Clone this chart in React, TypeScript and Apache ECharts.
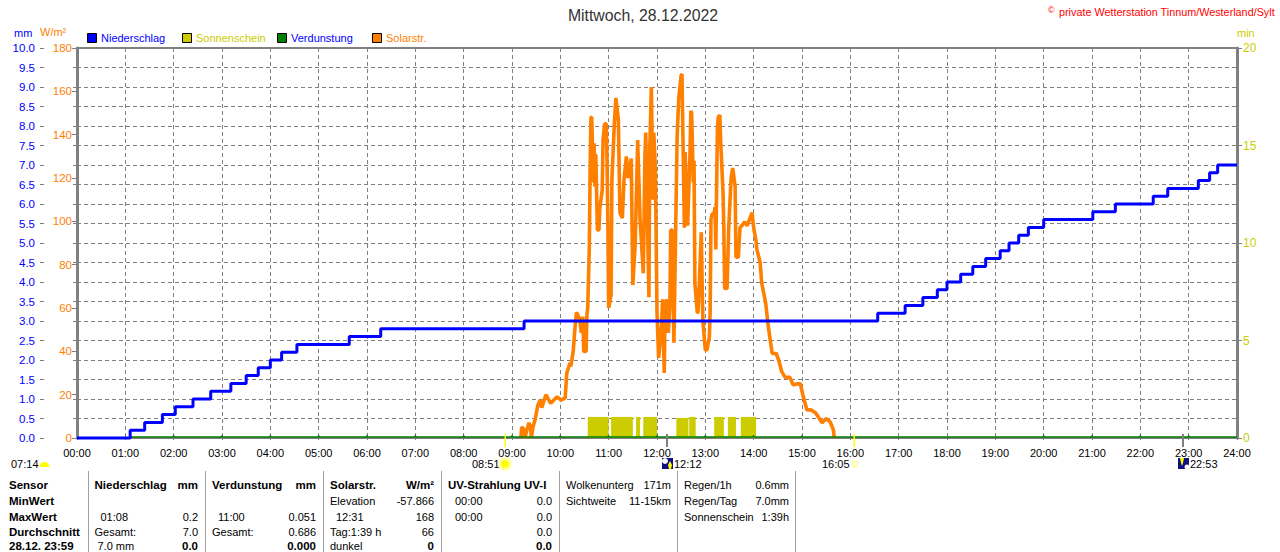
import React, { useEffect, useRef } from "react";
import * as echarts from "echarts";

const chartTitle = "Mittwoch, 28.12.2022";
const stationNote = "private Wetterstation Tinnum/Westerland/Sylt";

const legendNames = ["Niederschlag", "Sonnenschein", "Verdunstung", "Solarstr."];

const rainMinutes = [0, 66, 84, 106, 122, 144, 166, 191, 210, 225, 240, 254, 273, 338, 377, 555, 994, 1028, 1050, 1068, 1080, 1097, 1112, 1128, 1146, 1157, 1169, 1181, 1200, 1261, 1289, 1336, 1354, 1392, 1406, 1416, 1440];
const rainValues = [0, 0.2, 0.4, 0.6, 0.8, 1.0, 1.2, 1.4, 1.6, 1.8, 2.0, 2.2, 2.4, 2.6, 2.8, 3.0, 3.2, 3.4, 3.6, 3.8, 4.0, 4.2, 4.4, 4.6, 4.8, 5.0, 5.2, 5.4, 5.6, 5.8, 6.0, 6.2, 6.4, 6.6, 6.8, 7.0, 7.0];

const solarMinutes = [551, 552, 555, 556, 558, 561, 563, 564, 566, 569, 572, 575, 577, 582, 588, 596, 601, 606, 608, 612, 613, 616, 618, 620, 624, 626, 628, 629, 632, 633, 634, 636, 637, 638, 639, 641, 642, 643, 644, 646, 648, 649, 652, 653, 655, 657, 658, 659, 660, 663, 664, 667, 669, 672, 674, 677, 679, 682, 684, 688, 690, 693, 695, 696, 699, 700, 703, 705, 706, 710, 711, 713, 715, 716, 718, 720, 721, 722, 725, 727, 729, 730, 732, 734, 736, 737, 739, 741, 744, 745, 746, 747, 750, 751, 752, 754, 755, 756, 757, 758, 761, 762, 763, 765, 766, 767, 770, 771, 775, 776, 777, 780, 782, 785, 786, 787, 788, 791, 792, 793, 795, 796, 798, 799, 802, 803, 804, 807, 809, 812, 814, 817, 818, 821, 823, 829, 832, 838, 840, 843, 844, 848, 850, 853, 855, 858, 860, 863, 868, 871, 875, 879, 885, 889, 894, 898, 901, 906, 911, 917, 925, 930, 935, 939, 940];
const solarValues = [0, 5, 4, 0, 3, 7, 5, 0, 5, 9, 15, 17.5, 14, 20, 16, 19, 17.5, 18.5, 30, 34.6, 33, 40, 50, 58, 55, 48.5, 56, 40, 40, 57, 60, 88, 125, 148, 148, 118, 136, 116, 131, 96, 96, 106, 114.5, 137.5, 145, 145, 128, 99, 60, 66, 119, 145, 157, 147, 104, 101.5, 119, 130, 120, 129, 70.6, 90, 121, 137.5, 100.6, 94.6, 76, 130, 141, 65, 133, 162, 110, 141, 124, 58, 47.5, 37, 47.5, 64, 30, 58, 64, 48.5, 61, 96, 96, 44, 116, 139, 148, 157, 167.5, 168, 143.5, 97, 132, 118, 100, 98, 132, 151, 150, 118, 128, 71.5, 58, 58, 95, 71.5, 54, 40.6, 40.6, 46.6, 59, 100.6, 103, 104, 106.6, 87, 143, 148, 149, 137.5, 113, 96, 69, 69, 97, 120, 124.6, 116, 83.5, 83.5, 97, 99.7, 98, 104, 97, 91, 87, 81, 71.5, 66, 62, 52, 46.6, 39, 39, 36, 30.5, 28, 28, 24.5, 25, 25, 20, 13, 13, 11.5, 7, 9, 7.4, 3.7, 0];

const sunshineStart = [634, 663, 694, 703, 744, 760, 791, 808, 824];
const sunshineEnd = [660, 690, 699, 720, 759, 768, 803, 818, 843];
const sunshineHeight = [1.08, 1.08, 1.08, 1.08, 1.03, 1.08, 1.08, 1.08, 1.08];

const evapPeakHours = [2, 3, 4, 5, 6, 7, 8, 9, 10, 11, 12, 13, 14, 15, 20, 21, 22, 23];
const evapBase = 0.025;
const evapPeak = 0.06;

const sunEventMinutes = [531, 732, 965, 1373];
const sunEventLabels = ["08:51", "12:12", "16:05", "22:53"];
const sunriseLabel = "07:14";

const sensorColumn = ["Sensor", "MinWert", "MaxWert", "Durchschnitt", "28.12. 23:59"];
const rainColumnLeft = ["Niederschlag", "", "01:08", "Gesamt:", "7.0 mm"];
const rainColumnRight = ["mm", "", "0.2", "7.0", "0.0"];
const evapColumnLeft = ["Verdunstung", "", "11:00", "Gesamt:", ""];
const evapColumnRight = ["mm", "", "0.051", "0.686", "0.000"];
const solarColumnLeft = ["Solarstr.", "Elevation", "12:31", "Tag:1:39 h", "dunkel"];
const solarColumnRight = ["W/m²", "-57.866", "168", "66", "0"];
const uvColumnLeft = ["UV-Strahlung UV-I", "00:00", "00:00", "", ""];
const uvColumnRight = ["", "0.0", "0.0", "0.0", "0.0"];
const cloudColumnLeft = ["Wolkenunterg", "Sichtweite"];
const cloudColumnRight = ["171m", "11-15km"];
const summaryColumnLeft = ["Regen/1h", "Regen/Tag", "Sonnenschein"];
const summaryColumnRight = ["0.6mm", "7.0mm", "1:39h"];

const BLUE = "#0000ff";
const ORANGE = "#ff8000";
const OLIVE = "#cccc00";
const GREEN = "#007f00";
const GRAY = "#808080";
const FONT = '"Liberation Sans", Arial, sans-serif';
const NORMAL = `11px ${FONT}`;
const BOLD = `bold 11.5px ${FONT}`;
const ROW_Y = [485, 501, 517, 532, 546];

const zip = (a: number[], b: number[]) => a.map((v, i) => [v, b[i]]);

function txt(text: string, x: number, y: number, font: string, fill: string, align = "left") {
  return {
    type: "text",
    x,
    y,
    silent: true,
    style: { text, font, fill, align, verticalAlign: "middle", textAlign: align, textVerticalAlign: "middle" },
  };
}

function tableColumn(left: string[], right: string[], lx: number, rx: number, indents: number[], boldLeftRows: number[], boldRightRows: number[]) {
  const out: any[] = [];
  left.forEach((s, i) => {
    if (s) out.push(txt(s, lx + (indents[i] || 0), ROW_Y[i], boldLeftRows.includes(i) ? BOLD : NORMAL, "#000", "left"));
  });
  right.forEach((s, i) => {
    if (s) out.push(txt(s, rx, ROW_Y[i], boldRightRows.includes(i) ? BOLD : NORMAL, "#000", "right"));
  });
  return out;
}

function buildGraphics() {
  const els: any[] = [];
  els.push(txt("mm", 14, 33, NORMAL, BLUE));
  els.push(txt("W/m²", 40, 32, NORMAL, ORANGE));
  els.push(txt("min", 1237, 33, NORMAL, OLIVE));
  els.push(txt("©", 1048, 10, `9px ${FONT}`, "#ff0000"));
  els.push(txt(stationNote, 1059, 12, `10.8px ${FONT}`, "#ff0000"));
  const legendColors = [BLUE, OLIVE, GREEN, ORANGE];
  const legendText = [BLUE, OLIVE, BLUE, ORANGE];
  legendNames.forEach((n, i) => {
    const x = 87 + i * 95;
    els.push({ type: "rect", shape: { x: x + 0.5, y: 33.5, width: 9, height: 9 }, style: { fill: legendColors[i], stroke: "#000", lineWidth: 1 }, silent: true });
    els.push(txt(n, x + 14, 38, NORMAL, legendText[i]));
  });
  els.push(txt(sunriseLabel, 11, 464, NORMAL, "#000"));
  els.push({ type: "sector", shape: { cx: 44.5, cy: 467, r: 5, r0: 0, startAngle: Math.PI, endAngle: 2 * Math.PI }, style: { fill: "#ffff00" }, silent: true });
  els.push(txt(sunEventLabels[0], 472, 464, NORMAL, "#000"));
  els.push({ type: "circle", shape: { cx: 505, cy: 464, r: 7 }, style: { fill: "#ffffb0" }, silent: true });
  els.push({ type: "circle", shape: { cx: 505, cy: 464, r: 4 }, style: { fill: "#ffff00" }, silent: true });
  els.push({ type: "rect", shape: { x: 662, y: 458, width: 11, height: 11 }, style: { fill: "#101080" }, silent: true });
  els.push({ type: "circle", shape: { cx: 665, cy: 461, r: 3 }, style: { fill: "#ffffff" }, silent: true });
  els.push({ type: "polygon", shape: { points: [[670, 461], [672, 465], [671, 469], [669, 469], [668, 465]] }, style: { fill: "#ffff00" }, silent: true });
  els.push(txt(sunEventLabels[1], 674, 464, NORMAL, "#000"));
  els.push(txt(sunEventLabels[2], 822, 464, NORMAL, "#000"));
  els.push({ type: "rect", shape: { x: 852.5, y: 461.5, width: 5, height: 5 }, style: { fill: "#fff", stroke: "#ffff60", lineWidth: 1 }, silent: true });
  els.push({ type: "rect", shape: { x: 1178, y: 458, width: 11, height: 11 }, style: { fill: "#101080" }, silent: true });
  els.push({ type: "polygon", shape: { points: [[1180, 458], [1184, 458], [1183, 463], [1182, 466], [1181, 463]] }, style: { fill: "#ffff00" }, silent: true });
  els.push({ type: "circle", shape: { cx: 1187, cy: 467, r: 2.5 }, style: { fill: "#ffffff" }, silent: true });
  els.push(txt(sunEventLabels[3], 1190, 464, NORMAL, "#000"));
  [88, 205, 323, 441, 559, 677, 795].forEach((x) => {
    els.push({ type: "line", shape: { x1: x + 0.5, y1: 471, x2: x + 0.5, y2: 552 }, style: { stroke: "#a0a0a0", lineWidth: 1 }, silent: true });
  });
  sensorColumn.forEach((s, i) => els.push(txt(s, 9, ROW_Y[i], BOLD, "#000")));
  els.push(...tableColumn(rainColumnLeft, rainColumnRight, 94.5, 198, [0, 0, 6, 0, 3], [0], [0, 4]));
  els.push(...tableColumn(evapColumnLeft, evapColumnRight, 212, 316, [0, 0, 6, 0, 0], [0], [0, 4]));
  els.push(...tableColumn(solarColumnLeft, solarColumnRight, 330, 434, [0, 0, 6, 0, 0], [0], [0, 4]));
  els.push(...tableColumn(uvColumnLeft, uvColumnRight, 448, 552, [0, 7, 7, 0, 0], [0], [4]));
  els.push(...tableColumn(cloudColumnLeft, cloudColumnRight, 566, 671, [], [], []));
  els.push(...tableColumn(summaryColumnLeft, summaryColumnRight, 684, 789, [], [], []));
  return els;
}

export default function App() {
  const ref = useRef<HTMLDivElement>(null);
  useEffect(() => {
    document.body.style.margin = "0";
    const chart = echarts.init(ref.current!, undefined, { renderer: "svg" });
    const evapData: number[][] = [[66, evapBase]];
    evapPeakHours.forEach((h) => {
      evapData.push([h * 60 - 1, evapBase], [h * 60, evapPeak], [h * 60 + 1, evapBase]);
    });
    evapData.push([1440, evapBase]);

    const sharedAxisLabel = { fontFamily: FONT, fontSize: 11.5 };
    chart.setOption({
      animation: false,
      backgroundColor: "#ffffff",
      title: {
        text: chartTitle,
        left: 638,
        top: 2,
        textAlign: "center",
        textStyle: { fontFamily: FONT, fontSize: 15.8, fontWeight: "normal", color: "#333" },
      },
      grid: { left: 77, right: 43, top: 48, bottom: 114, show: true, borderColor: GRAY, borderWidth: 2, backgroundColor: "transparent" },
      xAxis: {
        type: "value",
        min: 0,
        max: 1440,
        interval: 60,
        axisLine: { lineStyle: { color: GRAY, width: 2 } },
        axisTick: { length: 2, lineStyle: { color: GRAY } },
        axisLabel: {
          ...sharedAxisLabel,
          fontSize: 11,
          color: "#000",
          margin: 9,
          hideOverlap: false,
          showMinLabel: true,
          showMaxLabel: true,
          formatter: (v: number) => `${String(v / 60).padStart(2, "0")}:00`,
        },
        splitLine: { show: true, lineStyle: { color: GRAY, type: [4, 3], width: 1 } },
      },
      yAxis: [
        {
          type: "value",
          position: "left",
          offset: 37,
          min: 0,
          max: 10,
          interval: 0.5,
          axisLine: { show: true, lineStyle: { color: GRAY, width: 1 } },
          axisTick: { show: true, length: 4, lineStyle: { color: GRAY } },
          axisLabel: { ...sharedAxisLabel, fontSize: 11.5, color: BLUE, margin: 5, formatter: (v: number) => v.toFixed(1) },
          splitLine: { show: true, lineStyle: { color: GRAY, type: [4, 3], width: 1 } },
        },
        {
          type: "value",
          position: "left",
          min: 0,
          max: 180,
          interval: 20,
          axisLine: { show: true, lineStyle: { color: GRAY, width: 3 } },
          axisTick: { show: true, length: 5, lineStyle: { color: GRAY } },
          axisLabel: { ...sharedAxisLabel, fontSize: 11.5, color: ORANGE, margin: 5 },
          splitLine: { show: false },
        },
        {
          type: "value",
          position: "right",
          min: 0,
          max: 20,
          interval: 5,
          axisLine: { show: true, lineStyle: { color: GRAY, width: 3 } },
          axisTick: { show: true, length: 5, lineStyle: { color: GRAY } },
          axisLabel: { ...sharedAxisLabel, fontSize: 12, color: OLIVE, margin: 6 },
          splitLine: { show: false },
        },
        {
          type: "value",
          position: "left",
          offset: 37,
          min: 0,
          max: 10,
          interval: 0.5,
          axisLine: { show: false },
          axisTick: { show: true, inside: true, length: 4, lineStyle: { color: GRAY } },
          axisLabel: { show: false },
          splitLine: { show: false },
        },
      ],
      series: [
        {
          name: "Sonnenschein",
          type: "custom",
          yAxisIndex: 2,
          z: 2,
          encode: { x: [0, 1], y: 2 },
          data: sunshineStart.map((s, i) => [s, sunshineEnd[i], sunshineHeight[i]]),
          renderItem: (_: any, api: any) => {
            const a = api.coord([api.value(0), api.value(2)]);
            const b = api.coord([api.value(1), 0]);
            return { type: "rect", shape: { x: a[0], y: a[1], width: b[0] - a[0], height: b[1] - a[1] }, style: { fill: OLIVE } };
          },
        },
        {
          name: "Solarstr.",
          type: "line",
          yAxisIndex: 1,
          z: 3,
          showSymbol: false,
          symbol: "none",
          lineStyle: { color: ORANGE, width: 3.6, join: "bevel" },
          itemStyle: { color: ORANGE },
          data: zip(solarMinutes, solarValues),
        },
        {
          name: "Verdunstung",
          type: "line",
          yAxisIndex: 0,
          z: 4,
          symbol: "none",
          lineStyle: { color: GREEN, width: 1.5 },
          itemStyle: { color: GREEN },
          data: evapData,
        },
        {
          name: "Niederschlag",
          type: "line",
          yAxisIndex: 0,
          z: 5,
          step: "end",
          symbol: "none",
          clip: false,
          lineStyle: { color: BLUE, width: 3 },
          itemStyle: { color: BLUE },
          data: zip(rainMinutes, rainValues),
        },
        {
          name: "Sonne/Mond",
          type: "custom",
          yAxisIndex: 0,
          z: 6,
          clip: false,
          encode: { x: 0, y: 1 },
          data: sunEventMinutes.map((m) => [m, 0]),
          renderItem: (p: any, api: any) => {
            const c = api.coord([api.value(0), 0]);
            const isMoon = p.dataIndex % 2 === 1;
            return {
              type: "rect",
              shape: { x: Math.round(c[0]) - (isMoon ? 1 : 0.5), y: c[1] - 4, width: isMoon ? 2 : 1.5, height: 13 },
              style: { fill: isMoon ? GRAY : "#ffff00" },
            };
          },
        },
      ],
      graphic: { elements: buildGraphics() },
    });
    return () => chart.dispose();
  }, []);
  return <div ref={ref} style={{ position: "fixed", left: 0, top: 0, width: 1280, height: 552, overflow: "hidden" }} />;
}
